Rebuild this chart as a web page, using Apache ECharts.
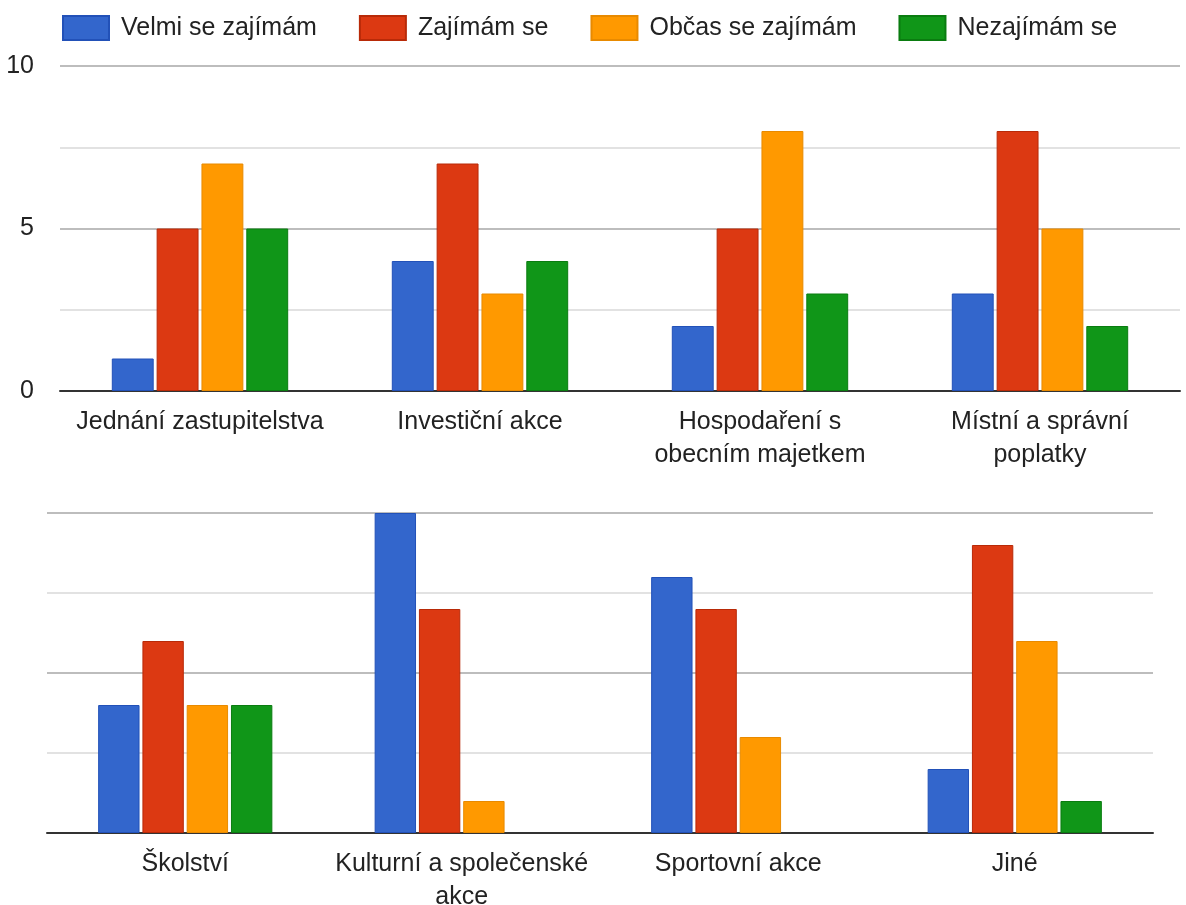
<!DOCTYPE html>
<html>
<head>
<meta charset="utf-8">
<script src="https://cdn.jsdelivr.net/npm/echarts@6/dist/echarts.min.js"></script>
<style>
html,body{margin:0;padding:0;background:#fff;}
#chart{width:1186px;height:905px;}
</style>
</head>
<body>
<div id="chart"></div>
<script>
// Data
const categoriesTop = ['Jednání zastupitelstva', 'Investiční akce', 'Hospodaření s obecním majetkem', 'Místní a správní poplatky'];
const categoriesBottom = ['Školství', 'Kulturní a společenské akce', 'Sportovní akce', 'Jiné'];
const tickLabelsTop = ['Jednání zastupitelstva', 'Investiční akce', 'Hospodaření s\nobecním majetkem', 'Místní a správní\npoplatky'];
const tickLabelsBottom = ['Školství', 'Kulturní a společenské\nakce', 'Sportovní akce', 'Jiné'];
const seriesNames = ['Velmi se zajímám', 'Zajímám se', 'Občas se zajímám', 'Nezajímám se'];
const velmiTop = [1, 4, 2, 3];
const zajimamTop = [5, 7, 5, 8];
const obcasTop = [7, 3, 8, 5];
const nezajimamTop = [5, 4, 3, 2];
const velmiBottom = [4, 10, 8, 2];
const zajimamBottom = [6, 7, 7, 9];
const obcasBottom = [4, 1, 3, 6];
const nezajimamBottom = [4, 0, 0, 1];
const yTicks = [0, 5, 10];

const colors = ['#3366cc', '#dc3912', '#ff9900', '#109618'];
const borders = ['#2251b8', '#b82a08', '#e88a00', '#0a7c10'];
const font = '"Liberation Sans", Arial, sans-serif';

const topData = [velmiTop, zajimamTop, obcasTop, nezajimamTop];
const bottomData = [velmiBottom, zajimamBottom, obcasBottom, nezajimamBottom];

function mk(i, data, gi) {
  return {
    name: seriesNames[i], type: 'bar', xAxisIndex: gi, yAxisIndex: gi,
    data: data.map(v => v === 0 ? '-' : v),
    barCategoryGap: '37%', barGap: '7%',
    itemStyle: { color: colors[i], borderColor: borders[i], borderWidth: 1 },
    emphasis: { disabled: true }
  };
}
const series = [];
for (let i = 0; i < 4; i++) series.push(mk(i, topData[i], 0));
for (let i = 0; i < 4; i++) series.push(mk(i, bottomData[i], 1));

function xAx(cats, labels, gi) {
  return {
    type: 'category', gridIndex: gi, data: cats,
    axisLine: { lineStyle: { color: '#333', width: 2 } },
    axisTick: { show: false },
    axisLabel: { color: '#222', fontSize: 25, fontFamily: font, margin: 15, lineHeight: 33,
      interval: 0, align: 'center', hideOverlap: false,
      formatter: (v, idx) => labels[idx] }
  };
}
function yAx(gi, showLabels) {
  return {
    type: 'value', gridIndex: gi, min: 0, max: 10, interval: 2.5,
    axisLine: { show: false }, axisTick: { show: false },
    axisLabel: { show: showLabels, color: '#222', fontSize: 25, fontFamily: font, margin: 26,
      formatter: v => yTicks.indexOf(v) >= 0 ? String(v) : '' },
    splitLine: { lineStyle: { color: ['#bdbdbd', '#e2e2e2'], width: 2 } }
  };
}

const chart = echarts.init(document.getElementById('chart'));
chart.setOption({
  animation: false,
  backgroundColor: '#fff',
  legend: {
    data: seriesNames, left: 57, top: 10, itemWidth: 46, itemHeight: 24, itemGap: 42,
    icon: 'rect',
    textStyle: { color: '#222', fontSize: 25, fontFamily: font, padding: [0, 0, 0, 7] }
  },
  grid: [
    { left: 60, width: 1120, top: 66, height: 325, outerBoundsMode: 'none', containLabel: false },
    { left: 47, width: 1106, top: 513, height: 320, outerBoundsMode: 'none', containLabel: false }
  ],
  xAxis: [xAx(categoriesTop, tickLabelsTop, 0), xAx(categoriesBottom, tickLabelsBottom, 1)],
  yAxis: [yAx(0, true), yAx(1, false)],
  series: series
});
</script>
</body>
</html>
